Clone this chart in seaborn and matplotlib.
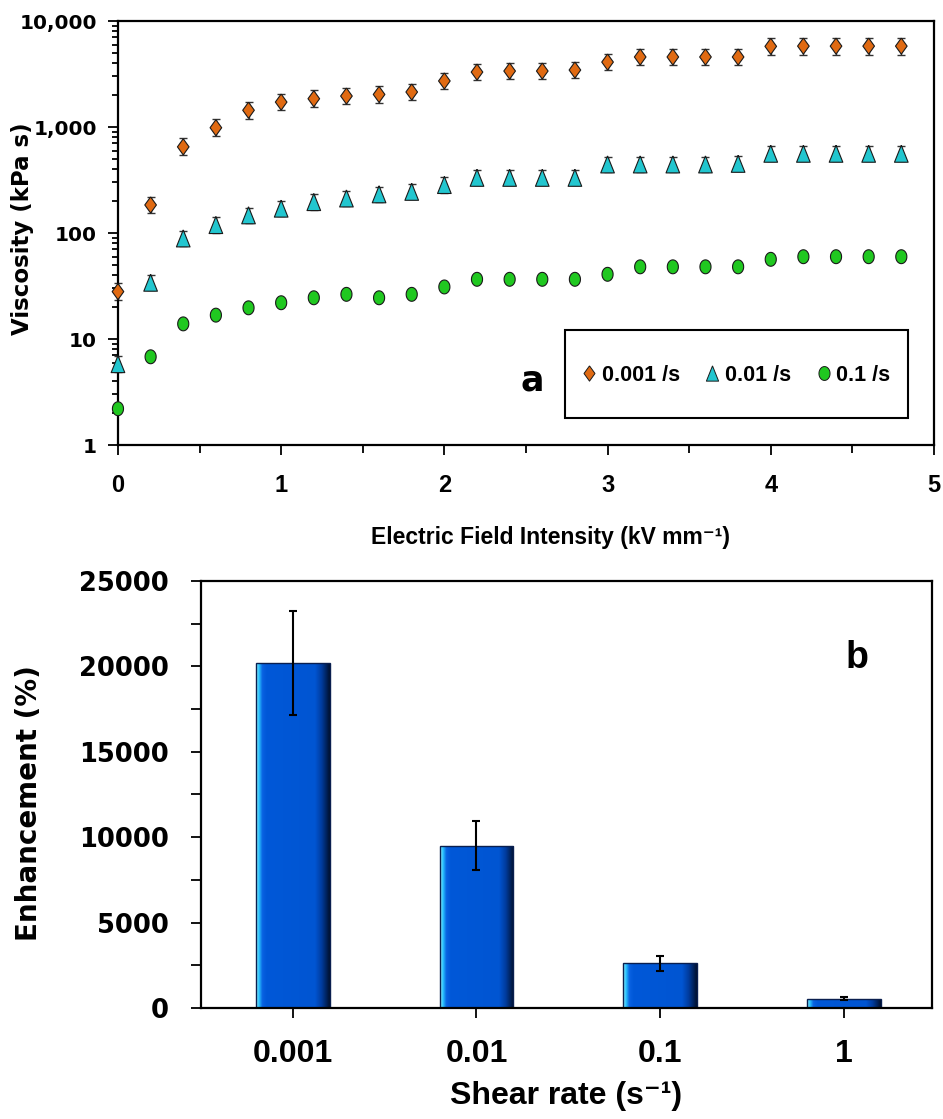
import numpy as np
import pandas as pd
import matplotlib
matplotlib.use("Agg")
import matplotlib.pyplot as plt
import seaborn as sns
from matplotlib.colors import LinearSegmentedColormap
from matplotlib.lines import Line2D
from matplotlib.markers import MarkerStyle
from matplotlib.patches import Rectangle
from matplotlib.ticker import LogLocator, FuncFormatter, MultipleLocator, NullFormatter

# ---------------- data: panel a ----------------
field = [0.0, 0.2, 0.4, 0.6, 0.8, 1.0, 1.2, 1.4, 1.6, 1.8, 2.0, 2.2, 2.4,
         2.6, 2.8, 3.0, 3.2, 3.4, 3.6, 3.8, 4.0, 4.2, 4.4, 4.6, 4.8]
visc_0001 = [28, 184, 650, 985, 1440, 1720, 1850, 1960, 2030, 2140, 2720, 3300, 3375,
             3375, 3450, 4100, 4580, 4580, 4580, 4580, 5770, 5800, 5800, 5800, 5800]
visc_001 = [5.8, 34, 89, 119, 147, 170, 196, 212, 232, 245, 284, 332, 332,
            332, 332, 444, 444, 444, 444, 450, 560, 560, 560, 560, 560]
visc_01 = [2.2, 6.8, 13.9, 16.8, 19.7, 22.0, 24.5, 26.4, 24.5, 26.4, 31, 36.6, 36.6,
           36.6, 36.6, 40.8, 48, 48, 48, 48, 56.5, 59.8, 59.8, 59.8, 59.8]
rate_labels = ["0.001 /s", "0.01 /s", "0.1 /s"]
rel_err = [0.20, 0.18, 0.05]

# ---------------- data: panel b ----------------
shear_rates = ["0.001", "0.01", "0.1", "1"]
enhancement = [20200, 9500, 2610, 545]
enhancement_err = [3030, 1450, 420, 90]

# ---------------- style ----------------
sns.set_style("ticks")
plt.rcParams["font.family"] = ["Liberation Sans", "DejaVu Sans"]
plt.rcParams["font.weight"] = "bold"
plt.rcParams["axes.linewidth"] = 1.5
for key in ["text.color", "axes.labelcolor", "xtick.color", "ytick.color", "axes.edgecolor"]:
    plt.rcParams[key] = "black"

fig = plt.figure(figsize=(9.43, 11.19), dpi=100)
ax1 = fig.add_axes([0.1251, 0.6023, 0.8653, 0.3789])
ax2 = fig.add_axes([0.2131, 0.0992, 0.7752, 0.3816])

# marker shapes
diamond = [(0, 1), (0.72, 0), (0, -1), (-0.72, 0), (0, 1)]
triangle = [(0, 1), (0.8, -1), (-0.8, -1), (0, 1)]
tt = np.linspace(0, 2 * np.pi, 41)
ellipse = list(zip(0.8 * np.cos(tt), np.sin(tt)))

colors = {"0.001 /s": "#E06A12", "0.01 /s": "#22C6CF", "0.1 /s": "#20C820"}
markers = {"0.001 /s": diamond, "0.01 /s": triangle, "0.1 /s": ellipse}
sizes = {"0.001 /s": 135, "0.01 /s": 150, "0.1 /s": 100}

series = [visc_0001, visc_001, visc_01]
df = pd.DataFrame({
    "field": field * 3,
    "viscosity": visc_0001 + visc_001 + visc_01,
    "rate": sum([[lab] * len(field) for lab in rate_labels], []),
})

for lab, vals, re in zip(rate_labels, series, rel_err):
    v = np.array(vals, dtype=float)
    eb = ax1.errorbar(field, v, yerr=[v - v / (1 + re), v * re], fmt="none",
                      ecolor="#333333", elinewidth=1.0, capsize=3, capthick=1.0, zorder=2)
    for art in eb.lines[1] + eb.lines[2]:
        art.set_clip_on(False)

sns.scatterplot(data=df, x="field", y="viscosity", hue="rate", style="rate", size="rate",
                palette=colors, markers=markers, sizes=sizes, hue_order=rate_labels,
                style_order=rate_labels, size_order=rate_labels,
                edgecolor="#1a1a1a", linewidth=0.8, legend=False, ax=ax1, zorder=3)
for coll in ax1.collections:
    coll.set_clip_on(False)

ax1.set_yscale("log")
ax1.set_xlim(0, 5)
ax1.set_ylim(1, 10000)
ax1.yaxis.set_major_locator(LogLocator(base=10, numticks=10))
ax1.yaxis.set_minor_locator(LogLocator(base=10, subs=np.arange(2, 10), numticks=50))
ax1.yaxis.set_major_formatter(FuncFormatter(lambda v, p: f"{v:,.0f}"))
ax1.yaxis.set_minor_formatter(NullFormatter())
ax1.xaxis.set_major_locator(MultipleLocator(1))
ax1.xaxis.set_minor_locator(MultipleLocator(0.5))
ax1.tick_params(axis="both", which="both", direction="out", top=False, right=False, width=1.3)
ax1.tick_params(axis="x", which="major", length=7, pad=14)
ax1.tick_params(axis="x", which="minor", length=6)
ax1.tick_params(axis="y", which="major", length=7, pad=8)
ax1.tick_params(axis="y", which="minor", length=4)
for t in ax1.get_xticklabels():
    t.set_fontsize(17); t.set_fontweight("bold"); t.set_family("Liberation Sans")
for t in ax1.get_yticklabels():
    t.set_fontsize(14.5); t.set_fontweight("bold"); t.set_family("DejaVu Sans")
ax1.set_xlabel("Electric Field Intensity (kV mm⁻¹)", fontsize=16.5, fontweight="bold",
               family=["Liberation Sans", "DejaVu Sans"])
ax1.xaxis.set_label_coords(0.53, -0.192)
ax1.set_ylabel("Viscosity (kPa s)", fontsize=16.5, fontweight="bold", family="DejaVu Sans")
ax1.yaxis.set_label_coords(-0.103, 0.51)
for s in ax1.spines.values():
    s.set_linewidth(1.6); s.set_color("black")

# legend box
ax1.add_patch(Rectangle((0.548, 0.064), 0.420, 0.2075, transform=ax1.transAxes,
                        facecolor="white", edgecolor="black", linewidth=1.5, zorder=4))
handles = [Line2D([], [], linestyle="", marker=MarkerStyle(markers[l]), markersize=ms,
                  markerfacecolor=colors[l], markeredgecolor="#1a1a1a", markeredgewidth=0.7)
           for l, ms in zip(rate_labels, [11, 11, 10])]
leg = ax1.legend(handles, rate_labels, loc="center", bbox_to_anchor=(0.758, 0.165),
                 ncol=3, frameon=False, handlelength=0.6, handletextpad=0.3,
                 columnspacing=1.2, prop={"family": "Liberation Sans", "weight": "bold", "size": 15.5})
leg.set_zorder(5)
ax1.text(0.508, 0.153, "a", transform=ax1.transAxes, fontsize=25, fontweight="bold",
         family="DejaVu Sans", ha="center", va="center")

# ---------------- panel b ----------------
sns.barplot(x=shear_rates, y=enhancement, order=shear_rates, color="#0058D8", saturation=1,
            width=0.4, edgecolor="#0A1F4F", linewidth=1.0, errorbar=None, ax=ax2, zorder=2)

cmap = LinearSegmentedColormap.from_list("bar3d", [
    (0.0, "#9AF0FF"), (0.04, "#28C4FF"), (0.085, "#0A62E2"), (0.14, "#0058D8"),
    (0.80, "#0055D2"), (0.89, "#003C9E"), (1.0, "#00102E")])
grad = np.linspace(0, 1, 256).reshape(1, -1)
xs = []
for patch in ax2.patches:
    x0 = patch.get_x(); w = patch.get_width()
    y0 = patch.get_y(); h = patch.get_height()
    xs.append(x0 + w / 2)
    im = ax2.imshow(grad, extent=[x0, x0 + w, y0, y0 + h], aspect="auto", cmap=cmap,
                    interpolation="bilinear", zorder=1.9)
    im.set_clip_path(patch)
    patch.set_facecolor("none")

xs_sorted = np.sort(np.array(xs))
ax2.errorbar(xs_sorted, enhancement, yerr=enhancement_err, fmt="none", ecolor="black",
             elinewidth=1.5, capsize=3, capthick=1.5, zorder=5)

ax2.set_xlim(-0.5, 3.48)
ax2.set_ylim(0, 25000)
ax2.yaxis.set_major_locator(MultipleLocator(5000))
ax2.yaxis.set_minor_locator(MultipleLocator(2500))
ax2.tick_params(axis="both", which="both", direction="out", top=False, right=False,
                length=7, width=1.3)
ax2.tick_params(axis="y", pad=16)
ax2.tick_params(axis="x", pad=15)
for t in ax2.get_xticklabels():
    t.set_fontsize(23); t.set_fontweight("bold"); t.set_family("Liberation Sans")
for t in ax2.get_yticklabels():
    t.set_fontsize(18.5); t.set_fontweight("bold"); t.set_family("DejaVu Sans")
ax2.set_xlabel("Shear rate (s⁻¹)", fontsize=23, fontweight="bold",
               family=["Liberation Sans", "DejaVu Sans"])
ax2.xaxis.set_label_coords(0.50, -0.172)
ax2.set_ylabel("Enhancement (%)", fontsize=20, fontweight="bold", family="DejaVu Sans")
ax2.yaxis.set_label_coords(-0.216, 0.48)
for s in ax2.spines.values():
    s.set_linewidth(1.6); s.set_color("black")
ax2.text(0.897, 0.82, "b", transform=ax2.transAxes, fontsize=27, fontweight="bold",
         family="Liberation Sans", ha="center", va="center")

fig.savefig("out.png", dpi=100)
